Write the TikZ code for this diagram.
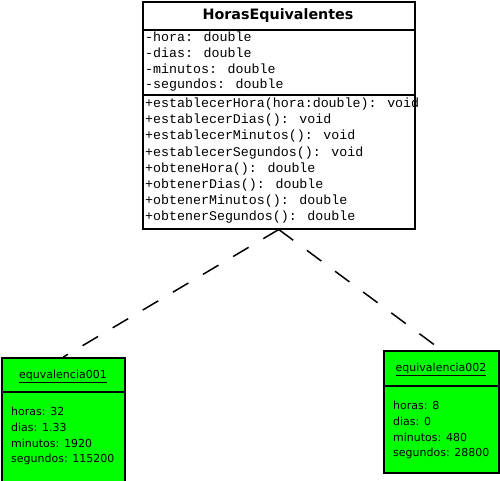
\documentclass[tikz,border=0pt]{standalone}
\usepackage{fontspec}
\setmainfont{DejaVu Sans}
\newfontfamily\monof{Liberation Mono}
\definecolor{objgreen}{RGB}{0,255,0}
\begin{document}
\begin{tikzpicture}[x=1pt,y=-1pt,
  classbox/.style={draw=black, line width=1.5pt, fill=white, inner sep=0pt, anchor=north west},
  objbox/.style={draw=black, line width=1.8pt, fill=objgreen, inner sep=0pt, anchor=north west},
  monotext/.style={anchor=west, inner sep=0pt, font=\monof\fontsize{13.3}{15}\selectfont},
  titletext/.style={inner sep=0pt, font=\bfseries\fontsize{14.3}{16}\selectfont},
  objtitle/.style={inner sep=0pt, font=\fontsize{11}{13}\selectfont},
  objtext/.style={anchor=west, inner sep=0pt, font=\fontsize{11}{13}\selectfont},
  instline/.style={draw=black, line width=1.5pt, dash pattern=on 18pt off 17pt}]
\useasboundingbox (0,0) rectangle (500,480);
% class box
\node[classbox, minimum width=272pt, minimum height=227pt] (cls) at (142,1) {};
\draw[line width=1.2pt] ([yshift=-29pt]cls.north west) -- ([yshift=-29pt]cls.north east);
\draw[line width=1.2pt] ([yshift=-94pt]cls.north west) -- ([yshift=-94pt]cls.north east);
\node[titletext] (ttl) at (278,16) {HorasEquivalentes};
\node[monotext] (a1) at (145,37) {-hora: double};
\node[monotext] (a2) at (145,53) {-dias: double};
\node[monotext] (a3) at (145,69) {-minutos: double};
\node[monotext] (a4) at (145,85) {-segundos: double};
\node[monotext] (m1) at (145,104) {+establecerHora(hora:double): void};
\node[monotext] (m2) at (145,120) {+establecerDias(): void};
\node[monotext] (m3) at (145,136) {+establecerMinutos(): void};
\node[monotext] (m4) at (145,153) {+establecerSegundos(): void};
\node[monotext] (m5) at (145,169) {+obteneHora(): double};
\node[monotext] (m6) at (145,185) {+obtenerDias(): double};
\node[monotext] (m7) at (145,201) {+obtenerMinutos(): double};
\node[monotext] (m8) at (145,217) {+obtenerSegundos(): double};
% object 1
\node[objbox, minimum width=123pt, minimum height=126pt] (e1) at (1,357) {};
\draw[line width=1.5pt] ([yshift=-35pt]e1.north west) -- ([yshift=-35pt]e1.north east);
\node[objtitle] (e1t) at (63,376) {\underline{equvalencia001}};
\node[objtext] (e1a) at (11,411) {horas: 32};
\node[objtext] (e1b) at (11,427) {dias: 1.33};
\node[objtext] (e1c) at (11,443) {minutos: 1920};
\node[objtext] (e1d) at (11,459) {segundos: 115200};
% object 2
\node[objbox, minimum width=115pt, minimum height=122pt] (e2) at (383,350) {};
\draw[line width=1.5pt] ([yshift=-36pt]e2.north west) -- ([yshift=-36pt]e2.north east);
\node[objtitle] (e2t) at (441,369) {\underline{equivalencia002}};
\node[objtext] (e2a) at (393,405) {horas: 8};
\node[objtext] (e2b) at (393,421) {dias: 0};
\node[objtext] (e2c) at (393,437) {minutos: 480};
\node[objtext] (e2d) at (393,453) {segundos: 28800};
% instance lines
\draw[instline] (cls.south) -- (e1.north);
\draw[instline] (cls.south) -- (e2.north);
\end{tikzpicture}
\end{document}
